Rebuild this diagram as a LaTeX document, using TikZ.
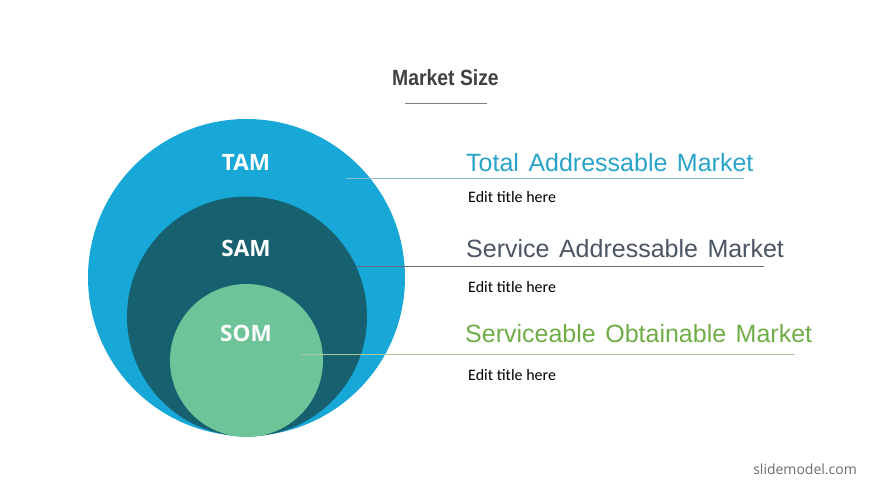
\documentclass[tikz,border=0pt]{standalone}
\usepackage{fontspec}
\setmainfont{Liberation Sans}
\newfontfamily\titlefont[FakeStretch=0.88]{Liberation Sans}
\newfontfamily\labelfont{Open Sans}
\newfontfamily\bodyfont{Carlito}
\definecolor{tamc}{HTML}{18A8D8}
\definecolor{samc}{HTML}{16606F}
\definecolor{somc}{HTML}{6DC498}
\definecolor{tamtext}{HTML}{2AA3C9}
\definecolor{samtext}{HTML}{4B5563}
\definecolor{somtext}{HTML}{70AD47}
\definecolor{tamline}{HTML}{8DB9C9}
\definecolor{samline}{HTML}{5F6B77}
\definecolor{somline}{HTML}{A9C89B}
\definecolor{titlegray}{HTML}{404040}
\newcommand{\wgap}{\hspace{9.5pt}}
\begin{document}
\begin{tikzpicture}[x=1pt,y=-1pt,
  ring/.style={circle,inner sep=0pt,draw=none},
  ringlabel/.style={font=\labelfont\bfseries\fontsize{22.5}{26}\selectfont,text=white,inner sep=0pt},
  headtext/.style={anchor=base west,inner sep=0pt,font=\fontsize{25}{30}\selectfont},
  subtext/.style={anchor=base west,inner sep=0pt,font=\bodyfont\fontsize{16}{19}\selectfont,text=black},
  leader/.style={line width=0.9pt}]
\useasboundingbox[fill=white] (0,0) rectangle (870,489);
% title
\node[inner sep=0pt,anchor=base,font=\titlefont\bfseries\fontsize{22}{26}\selectfont,text=titlegray] (title) at (445.5,86) {Market Size};
\coordinate (ulA) at (405,104);
\coordinate (ulB) at (487,104);
\draw[line width=1pt,color=gray] (ulA) -- (ulB);
% circles
\node[ring,fill=tamc,minimum size=317pt] (tam) at (246.5,277.5) {};
\node[ring,fill=samc,minimum size=240pt] (sam) at (247,316.5) {};
\node[ring,fill=somc,minimum size=153pt] (som) at (246.5,360.5) {};
\node[ringlabel] (tamlab) at (246,162) {TAM};
\node[ringlabel] (samlab) at (246,248) {SAM};
\node[ringlabel] (somlab) at (246,333) {SOM};
% headings
\node[headtext,text=tamtext] (tamhead) at (466,172) {Total\wgap Addressable\wgap Market};
\node[headtext,text=samtext] (samhead) at (466,257.5) {Service\wgap Addressable\wgap Market};
\node[headtext,text=somtext] (somhead) at (465,342.5) {Serviceable\wgap Obtainable\wgap Market};
\node[subtext] (tamsub) at (468,203) {Edit title here};
\node[subtext] (samsub) at (468,292) {Edit title here};
\node[subtext] (somsub) at (468,380) {Edit title here};
% leader lines
\coordinate (tamA) at (346,178.5);
\coordinate (tamB) at (744,178.5);
\coordinate (samA) at (356,266);
\coordinate (samB) at (764,266);
\coordinate (somA) at (301,354.5);
\coordinate (somB) at (795,354.5);
\draw[leader,color=tamline] (tamA) -- (tamB);
\draw[leader,color=samline] (samA) -- (samB);
\draw[leader,color=somline] (somA) -- (somB);
% footer
\node[inner sep=0pt,anchor=base east,font=\labelfont\fontsize{14}{17}\selectfont,text=gray!85!black] (site) at (857,474) {slidemodel.com};
\end{tikzpicture}
\end{document}
